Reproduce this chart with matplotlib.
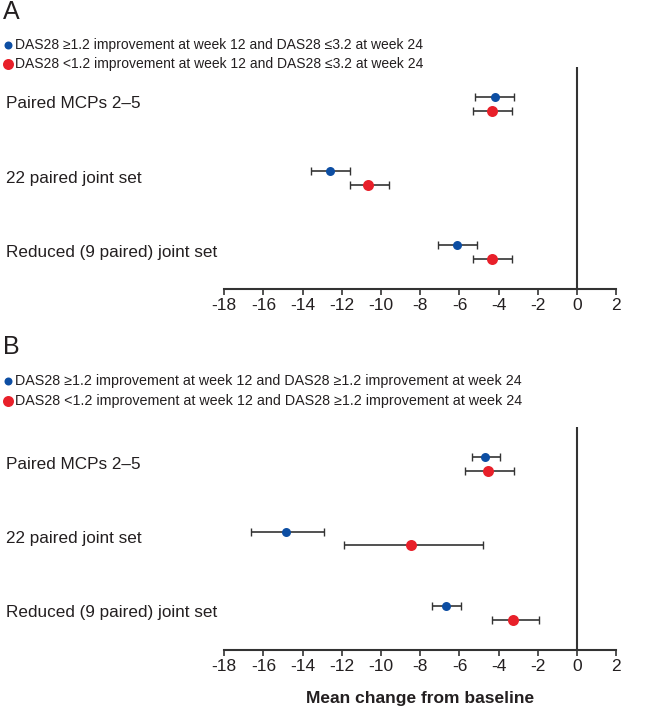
import matplotlib
matplotlib.use("Agg")
import matplotlib.pyplot as plt
from matplotlib.lines import Line2D

plt.rcParams['font.family'] = ['Liberation Sans', 'DejaVu Sans']

# categories, top to bottom
categories = ["Paired MCPs 2\u20135", "22 paired joint set", "Reduced (9 paired) joint set"]

# panel A: mean, lower, upper
a_blue_mean = [-4.2, -12.6, -6.15]
a_blue_lo = [-5.2, -13.6, -7.1]
a_blue_hi = [-3.2, -11.6, -5.1]
a_red_mean = [-4.35, -10.65, -4.35]
a_red_lo = [-5.3, -11.6, -5.3]
a_red_hi = [-3.3, -9.6, -3.3]

# panel B
b_blue_mean = [-4.7, -14.85, -6.7]
b_blue_lo = [-5.35, -16.65, -7.4]
b_blue_hi = [-3.95, -12.9, -5.9]
b_red_mean = [-4.55, -8.45, -3.25]
b_red_lo = [-5.7, -11.9, -4.35]
b_red_hi = [-3.2, -4.8, -1.95]

a_legend = ["DAS28 \u22651.2 improvement at week 12 and DAS28 \u22643.2 at week 24",
            "DAS28 <1.2 improvement at week 12 and DAS28 \u22643.2 at week 24"]
b_legend = ["DAS28 \u22651.2 improvement at week 12 and DAS28 \u22651.2 improvement at week 24",
            "DAS28 <1.2 improvement at week 12 and DAS28 \u22651.2 improvement at week 24"]

xticks = list(range(-18, 3, 2))

BLUE = "#0d4ea3"
RED = "#e8202a"
TXT = "#231f20"
W, H = 666, 709

fig = plt.figure(figsize=(W / 100, H / 100), dpi=100)


def panel(top_px, bottom_px, blue, red, letter, legend, letter_y, leg_y, leg_size):
    ax = fig.add_axes([224.3 / W, (H - bottom_px) / H, 392 / W, (bottom_px - top_px) / H])
    ypos = [3, 2, 1]
    off = 0.09
    for (m, lo, hi), col, dy, ms in [(blue, BLUE, off, 9), (red, RED, -off, 11)]:
        ys = [y + dy for y in ypos]
        err = [[mm - l for mm, l in zip(m, lo)], [h - mm for mm, h in zip(m, hi)]]
        ax.errorbar(m, ys, xerr=err, fmt='none', ecolor="#333333", elinewidth=1.2,
                    capsize=3, capthick=1.0, zorder=2)
        ax.plot(m, ys, 'o', color=col, markersize=ms * 0.72, markeredgewidth=0, zorder=3)
    ax.axvline(0, color="#333333", lw=1.5, zorder=1)
    ax.set_xlim(-18, 2)
    ax.set_ylim(0.5, 3.5)
    ax.set_xticks(xticks)
    ax.set_xticklabels([str(t) for t in xticks])
    ax.set_yticks([])
    for s in ['top', 'right', 'left']:
        ax.spines[s].set_visible(False)
    ax.spines['bottom'].set_linewidth(1.5)
    ax.spines['bottom'].set_color("#333333")
    ax.tick_params(axis='x', direction='out', length=4.5, width=1.2, color="#333333",
                   labelsize=12.5, labelcolor=TXT, pad=2)
    for c, y in zip(categories, ypos):
        ax.annotate(c, xy=(6 / W, y), xycoords=('figure fraction', 'data'),
                    fontsize=12.3, color=TXT, va='center', ha='left')
    fig.text(3 / W, 1 - letter_y / H, letter, fontsize=18, color=TXT, va='center', ha='left')
    for txt, col, yy, ms in [(legend[0], BLUE, leg_y[0], 8), (legend[1], RED, leg_y[1], 11)]:
        fig.add_artist(Line2D([8 / W], [1 - yy / H], marker='o', color=col,
                              markersize=ms * 0.72, markeredgewidth=0, linestyle='none'))
        fig.text(15 / W, 1 - yy / H, txt, fontsize=leg_size, color=TXT, va='center', ha='left')
    return ax


panel(67, 289, (a_blue_mean, a_blue_lo, a_blue_hi), (a_red_mean, a_red_lo, a_red_hi),
      "A", a_legend, 12, (45, 64), 10)
axb = panel(427, 650, (b_blue_mean, b_blue_lo, b_blue_hi), (b_red_mean, b_red_lo, b_red_hi),
            "B", b_legend, 347, (381, 401), 10.3)
fig.text(420 / W, 1 - 698 / H, "Mean change from baseline", fontsize=12.5, fontweight='bold',
         color=TXT, ha='center', va='center')

fig.savefig("out.png", dpi=100, facecolor='white')
